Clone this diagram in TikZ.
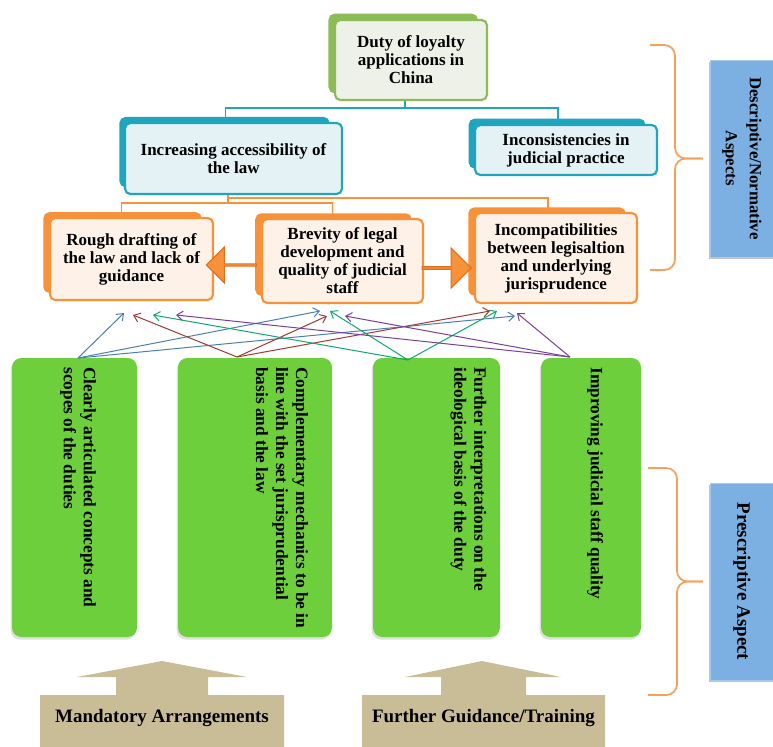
\documentclass[tikz,border=0pt]{standalone}
\usepackage{fontspec}
\setmainfont{Liberation Serif}
\usetikzlibrary{arrows.meta,shadows,shapes.arrows,positioning}

\definecolor{dutyline}{HTML}{8DBB55}
\definecolor{dutyfill}{HTML}{EEF1E7}
\definecolor{tealline}{HTML}{1FA5BE}
\definecolor{tealfill}{HTML}{E4F2F6}
\definecolor{orline}{HTML}{F7913A}
\definecolor{orfill}{HTML}{FDF1E8}
\definecolor{ordark}{HTML}{E0701E}
\definecolor{gfill}{HTML}{6DCF3B}
\definecolor{bluefill}{HTML}{7DB0E2}
\definecolor{blueline}{HTML}{A9CBEC}
\definecolor{tanc}{HTML}{C9BD98}
\definecolor{bracec}{HTML}{F7A05A}
\definecolor{arblue}{HTML}{4B7FB3}
\definecolor{arred}{HTML}{9E3B33}
\definecolor{argreen}{HTML}{10A86E}
\definecolor{arpurple}{HTML}{7B3F9C}

\begin{document}
\begin{tikzpicture}[x=0.75pt, y=-0.75pt,
      box/.style={rectangle, rounded corners=4pt, line width=1.6pt, align=center, inner sep=0pt, font=\bfseries\fontsize{12.75pt}{13.5pt}\selectfont},
      dutybox/.style={box, draw=dutyline, fill=dutyfill, copy shadow={fill=dutyline, draw=dutyline, opacity=1, shadow xshift=-6pt, shadow yshift=5pt, shadow scale=0.97}},
      tealbox/.style={box, draw=tealline, fill=tealfill, copy shadow={fill=tealline, draw=tealline, opacity=1, shadow xshift=-7pt, shadow yshift=5pt, shadow scale=0.96}},
      orbox/.style={box, draw=orline, fill=orfill, copy shadow={fill=orline, draw=orline, opacity=1, shadow xshift=-7pt, shadow yshift=5pt, shadow scale=0.96}},
      gbox/.style={rectangle, rounded corners=7pt, fill=gfill, draw=none, minimum height=209.25pt, drop shadow={fill=black!25, opacity=.5, shadow xshift=-1pt, shadow yshift=-2pt}},
      gtext/.style={rotate=-90, anchor=west, align=left, inner sep=0pt, font=\bfseries\fontsize{13pt}{15pt}\selectfont},
      bluebox/.style={rectangle, rotate=-90, fill=bluefill, draw=blueline, line width=0.6pt, align=center, minimum width=147.75pt, minimum height=48pt, drop shadow={fill=black!40, opacity=.6, shadow xshift=-1pt, shadow yshift=-1.5pt}},
      blockarrow/.style={single arrow, fill=orline, draw=ordark, line width=0.8pt, inner sep=0pt, single arrow head extend=6pt},
      tantext/.style={inner sep=0pt, font=\bfseries\fontsize{14.25pt}{16pt}\selectfont},
      tline/.style={draw=tealline, line width=1.3pt},
      oline/.style={draw=orline, line width=1.3pt},
      brace/.style={draw=bracec, line width=1.3pt, rounded corners=8pt},
      pfeil/.style={-{Straight Barb[length=4.5pt,width=7pt]}, line width=0.75pt}]

\useasboundingbox (0,0) rectangle (773,746);

% descriptive part
\node[dutybox, minimum width=114pt, minimum height=60pt] (duty) at (411,60) {Duty of loyalty\\applications in\\China};
\node[tealbox, minimum width=162.75pt, minimum height=53.25pt] (incr) at (233.5,158.5) {Increasing accessibility of\\the law};
\node[tealbox, minimum width=136.5pt, minimum height=37.5pt] (incons) at (566,150) {Inconsistencies in\\judicial practice};
\node[orbox, minimum width=122.25pt, minimum height=61.5pt] (rough) at (131.5,259) {Rough drafting of\\the law and lack of\\guidance};
\node[orbox, minimum width=120.75pt, minimum height=63pt] (brev) at (342.5,261) {Brevity of legal\\development and\\quality of judicial\\staff};
\node[orbox, minimum width=121.5pt, minimum height=67.5pt] (incomp) at (556,258) {Incompatibilities\\between legisaltion\\and underlying\\jurisprudence};

\node[blockarrow, minimum height=37.5pt, minimum width=27pt, shape border rotate=180] (al) at (232,265) {};
\node[blockarrow, minimum height=36.75pt, minimum width=30pt] (ar) at (446,268) {};

\draw[tline] ([xshift=-4.5pt]duty.south) -- ++(0,7) coordinate (tj);
\draw[tline] (tj) -| ([xshift=-6pt]incr.north);
\draw[tline] (tj) -| ([xshift=-6pt]incons.north);

\draw[oline] ([xshift=-4pt]incr.south) -- ++(0,8) coordinate (oj);
\draw[oline] (oj) -| ([xshift=-7.5pt]rough.north);
\draw[oline] (oj) -| ([xshift=-7.5pt]brev.north);
\draw[oline] ([xshift=-4pt,yshift=-2.25pt]incr.south) -| ([xshift=-6pt]incomp.north);

% prescriptive part
\node[gbox, minimum width=93.75pt] (g1) at (74.5,497.5) {};
\node[gbox, minimum width=115.5pt] (g2) at (255,497.5) {};
\node[gbox, minimum width=95.25pt] (g3) at (436.5,497.5) {};
\node[gbox, minimum width=75pt] (g4) at (591,497.5) {};
\node[gtext] (g1t) at (78,367) {Clearly articulated concepts and\\scopes of the duties};
\node[gtext] (g2t) at (282,367) {Complementary mechanics to be in\\line with the set jurisprudential\\basis and the law};
\node[gtext] (g3t) at (468.5,367) {Further interpretations on the\\ideological basis of the duty};
\node[gtext] (g4t) at (595,367) {Improving judicial staff quality};

\coordinate (sb) at (78,358);
\coordinate (sr) at (237,357);
\coordinate (sg) at (408,360);
\coordinate (sp) at (570,357);
\coordinate (rb) at (124,313);
\coordinate (rr) at (133,315);
\coordinate (rg) at (153,315);
\coordinate (rp) at (176,315);
\coordinate (bb) at (320,311);
\coordinate (br) at (327,316);
\coordinate (bg) at (330,311);
\coordinate (bp) at (345,316);
\coordinate (ib) at (515,316);
\coordinate (ir) at (490,311);
\coordinate (ig) at (497,311);
\coordinate (ip) at (517,313);
\foreach \s/\c/\ta/\tb/\tc in {sb/arblue/rb/bb/ib, sr/arred/rr/br/ir, sg/argreen/rg/bg/ig, sp/arpurple/rp/bp/ip}
  \path[\c] (\s) edge[pfeil] (\ta) edge[pfeil] (\tb) edge[pfeil] (\tc);

% aspects on the right
\node[bluebox, font=\bfseries\fontsize{12.6pt}{18pt}\selectfont] (desc) at (742,158.5) {Descriptive/Normative\\Aspects};
\node[bluebox, font=\bfseries\fontsize{14.25pt}{16pt}\selectfont] (presc) at (742,581.5) {Prescriptive Aspect};
\draw[brace] (650,45) -- (675,45) -- (675,158.5) -- ([xshift=-5pt]desc.south);
\draw[brace] (650,270) -- (675,270) -- (675,158.5) -- ([xshift=-5pt]desc.south);
\draw[brace] (648,468) -- (677,468) -- (677,581.5) -- ([xshift=-5pt]presc.south);
\draw[brace] (648,695) -- (677,695) -- (677,581.5) -- ([xshift=-5pt]presc.south);

% arrangements
\fill[tanc] (40,760) |- (116,695) |- (77,677) -- (162,661) -- (247,677) -| (208,695) -| (284,760) -- cycle;
\fill[tanc] (362,760) |- (441,695) |- (405,677) -- (482,661) -- (561,677) -| (526,695) -| (605,760) -- cycle;
\node[tantext] (mand) at (162,718) {Mandatory Arrangements};
\node[tantext] (guid) at (483.5,718) {Further Guidance/Training};

\end{tikzpicture}
\end{document}
